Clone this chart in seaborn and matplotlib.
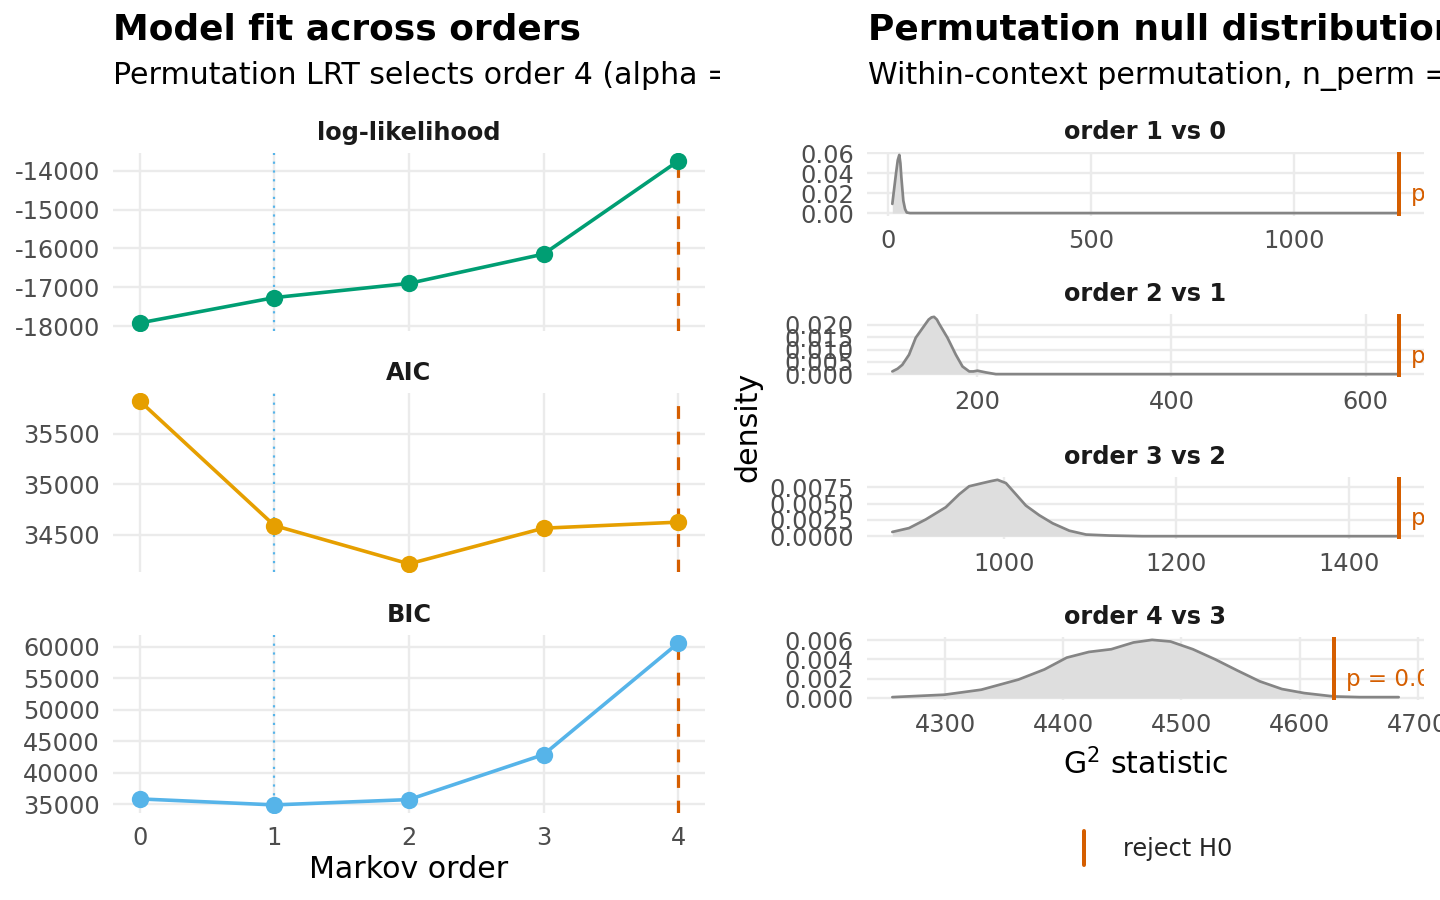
import numpy as np
import pandas as pd
import matplotlib
matplotlib.use("Agg")
import matplotlib.pyplot as plt
import seaborn as sns
from matplotlib.ticker import MultipleLocator, FormatStrFormatter, FixedLocator
from matplotlib.transforms import Bbox, TransformedBbox, ScaledTranslation
from matplotlib.lines import Line2D
from matplotlib.legend_handler import HandlerBase

# ---------------- data ----------------
orders = [0, 1, 2, 3, 4]
loglik = [-17915, -17264, -16898, -16145, -13753]
aic = [35824, 34589, 34209, 34563, 34623]
bic = [35846, 34894, 35740, 42875, 60581]
metric_names = ["log-likelihood", "AIC", "BIC"]
bic_best_order = 1
lrt_selected_order = 4

comparisons = ["order 1 vs 0", "order 2 vs 1", "order 3 vs 2", "order 4 vs 3"]
observed_g2 = [1258, 634, 1458, 4629]
p_labels = ["p = 0.001", "p = 0.001", "p = 0.001", "p = 0.02"]

null1_x = [10.6, 15.0, 19.7, 24.0, 27.8, 30.5, 32.8, 37.7, 42.0, 46.1, 54.2, 1258]
null1_d = [0.0092, 0.0240, 0.0397, 0.0530, 0.0583, 0.0500, 0.0362, 0.0125, 0.0040,
           0.0006, 0.0, 0.0]

null2_x = [112.6, 118.0, 122.9, 129.8, 136.7, 145.3, 150.0, 153.0, 155.6, 158.5,
           160.8, 169.4, 178.0, 184.9, 191.8, 196.0, 200.3, 208.9, 219.2, 634]
null2_d = [0.0011, 0.0022, 0.0038, 0.0079, 0.0148, 0.0196, 0.0222, 0.0231, 0.0233,
           0.0222, 0.0205, 0.0148, 0.0079, 0.0031, 0.0011, 0.0011, 0.0014, 0.0007,
           0.0, 0.0]

null3_x = [870.1, 889.5, 909.0, 932.2, 947.7, 959.3, 974.8, 985.0, 992.2, 1002.0,
           1013.6, 1025.2, 1040.7, 1056.2, 1075.6, 1095.0, 1122.0, 1160.0, 1458]
null3_d = [0.00065, 0.00124, 0.00257, 0.00444, 0.00642, 0.00765, 0.00814, 0.00845,
           0.00864, 0.00814, 0.00642, 0.00469, 0.00321, 0.00198, 0.00084, 0.00025,
           0.0001, 0.0, 0.0]

null4_x = [4255.4, 4299.4, 4330.7, 4362.1, 4384.1, 4402.9, 4421.7, 4440.6, 4459.4,
           4475.1, 4490.7, 4509.6, 4528.5, 4547.2, 4566.1, 4584.9, 4603.8, 4628.8,
           4650.7, 4683.7]
null4_d = [0.0001, 0.00035, 0.00087, 0.00192, 0.00297, 0.00419, 0.00478, 0.00506,
           0.00576, 0.00603, 0.00586, 0.00506, 0.00401, 0.00286, 0.00174, 0.00094,
           0.00052, 0.00017, 0.0001, 0.0001]

# ---------------- style ----------------
sns.set_theme(style="whitegrid")
plt.rcParams["font.family"] = ["DejaVu Sans"]

GRID = "#EBEBEB"
TICKC = "#4D4D4D"
GREEN, ORANGE, SKY, VERM = "#009E73", "#E69F00", "#56B4E9", "#D55E00"
TICK_FS, STRIP_FS, TITLE_FS, SUB_FS, AXT_FS = 12, 12, 18, 15, 15

W, H = 1440, 900
fig = plt.figure(figsize=(10, 6.25), dpi=144)
fig.patch.set_facecolor("white")


def px_axes(x0, y0, x1, y1):
    return fig.add_axes([x0 / W, 1 - y1 / H, (x1 - x0) / W, (y1 - y0) / H])


def style(ax):
    ax.set_facecolor("white")
    for s in ax.spines.values():
        s.set_visible(False)
    ax.grid(True, which="major", color=GRID, linewidth=1.2)
    ax.set_axisbelow(True)
    ax.tick_params(axis="both", length=0, labelsize=TICK_FS, labelcolor=TICKC)
    ax.tick_params(axis="y", pad=6.5)
    ax.tick_params(axis="x", pad=6.5)


def expand(vals, f=0.05):
    lo, hi = min(vals), max(vals)
    r = hi - lo
    return lo - f * r, hi + f * r


# ---------------- left: model fit ----------------
metric_df = pd.DataFrame({
    "order": orders * 3,
    "value": loglik + aic + bic,
    "metric": sum([[m] * len(orders) for m in metric_names], []),
})
metric_colors = [GREEN, ORANGE, SKY]
left_boxes = [(113, 153, 705, 331), (113, 393, 705, 572), (113, 635, 705, 813)]
y_steps = [1000, 500, 5000]

for i, (m, c, box, st) in enumerate(zip(metric_names, metric_colors, left_boxes, y_steps)):
    ax = px_axes(*box)
    style(ax)
    sub = metric_df[metric_df["metric"] == m]
    ax.axvline(bic_best_order, color=SKY, linewidth=1.1, linestyle=(0, (1, 3)), zorder=1.5)
    ax.axvline(lrt_selected_order, color=VERM, linewidth=1.6, linestyle=(0, (4, 4)), zorder=1.5)
    sns.lineplot(data=sub, x="order", y="value", color=c, linewidth=1.8, ax=ax,
                 estimator=None, zorder=2)
    sns.scatterplot(data=sub, x="order", y="value", color=c, s=75, linewidth=0,
                    ax=ax, zorder=3)
    ax.set_xlim(*expand(orders))
    ax.set_ylim(*expand(sub["value"].tolist()))
    ax.xaxis.set_major_locator(FixedLocator(orders))
    ax.yaxis.set_major_locator(MultipleLocator(st))
    ax.yaxis.set_major_formatter(FormatStrFormatter("%d"))
    ax.set_xlabel("")
    ax.set_ylabel("")
    ax.set_title(m, fontsize=STRIP_FS, fontweight="bold", color="#1A1A1A", pad=6.5)
    if i < 2:
        ax.tick_params(axis="x", labelbottom=False)

fig.text(409 / W, 1 - 878 / H, "Markov order", fontsize=AXT_FS, ha="center",
         va="baseline", color="black")

# ---------------- right: null distributions ----------------
null_xs = [null1_x, null2_x, null3_x, null4_x]
null_ds = [null1_d, null2_d, null3_d, null4_d]
right_boxes = [(867, 152, 1424, 216), (867, 314, 1424, 377),
               (867, 477, 1424, 539), (867, 637, 1424, 700)]
y_dec = [2, 3, 4, 3]
y_st = [0.02, 0.005, 0.0025, 0.002]
x_st = [500, 200, 200, 100]

for i in range(4):
    ax = px_axes(*right_boxes[i])
    style(ax)
    xs, ds = null_xs[i], null_ds[i]
    df = pd.DataFrame({"G2": xs, "density": ds})
    ax.fill_between(df["G2"], df["density"], color="#DEDEDE", linewidth=0, zorder=1.6)
    sns.lineplot(data=df, x="G2", y="density", color="#858585", linewidth=1.35,
                 sort=False, estimator=None, ax=ax, zorder=2)
    ax.axvline(observed_g2[i], color=VERM, linewidth=2.0, zorder=3)
    ax.set_xlim(*expand(xs + [observed_g2[i]]))
    ax.set_ylim(*expand(ds))
    ax.xaxis.set_major_locator(MultipleLocator(x_st[i]))
    ax.yaxis.set_major_locator(MultipleLocator(y_st[i]))
    ax.yaxis.set_major_formatter(FormatStrFormatter("%%.%df" % y_dec[i]))
    ax.xaxis.set_major_formatter(FormatStrFormatter("%d"))
    ax.set_xlabel("")
    ax.set_ylabel("")
    ax.set_title(comparisons[i], fontsize=STRIP_FS, fontweight="bold", color="#1A1A1A", pad=6.5)
    off = ax.transData + ScaledTranslation(6 / 72, 0, fig.dpi_scale_trans)
    ax.text(observed_g2[i], 0.2 * max(ds), p_labels[i], transform=off,
            color=VERM, fontsize=11.5, ha="left", va="baseline", clip_on=True, zorder=4)

fig.text(748 / W, 1 - 427 / H, "density", fontsize=AXT_FS, rotation=90,
         ha="center", va="center", color="black")
fig.text(1146 / W, 1 - 774 / H, r"G$^{2}$ statistic", fontsize=AXT_FS, ha="center",
         va="baseline", color="black")


class VLineHandler(HandlerBase):
    def create_artists(self, legend, orig_handle, xdescent, ydescent, width,
                       height, fontsize, trans):
        x = width / 2 - xdescent
        line = Line2D([x, x], [-ydescent, height - ydescent],
                      color=orig_handle.get_color(),
                      linewidth=orig_handle.get_linewidth(), transform=trans)
        return [line]


handle = Line2D([], [], color=VERM, linewidth=2.0, label="reject H0")
fig.legend(handles=[handle], labels=["reject H0"], handler_map={Line2D: VLineHandler()},
           loc="center left", bbox_to_anchor=(1073 / W, 1 - 848 / H), frameon=False,
           fontsize=TICK_FS, handlelength=0.92, handleheight=1.75, handletextpad=1.15,
           borderpad=0, borderaxespad=0)

# ---------------- titles ----------------
left_clip = TransformedBbox(Bbox([[0, 0], [0.5, 1]]), fig.transFigure)
t1 = fig.text(113 / W, 1 - 40 / H, "Model fit across orders", fontsize=TITLE_FS,
              fontweight="bold", va="baseline", ha="left", color="black")
t2 = fig.text(113 / W, 1 - 84 / H, "Permutation LRT selects order 4 (alpha = 0.05)",
              fontsize=SUB_FS, va="baseline", ha="left", color="black")
for t in (t1, t2):
    t.set_clip_on(True)
    t.set_clip_box(left_clip)

fig.text(868 / W, 1 - 40 / H, "Permutation null distributions of G\u00b2", fontsize=TITLE_FS,
         fontweight="bold", va="baseline", ha="left", color="black")
fig.text(868 / W, 1 - 84 / H, "Within-context permutation, n_perm = 1000",
         fontsize=SUB_FS, va="baseline", ha="left", color="black")

fig.savefig("out.png", dpi=144)
